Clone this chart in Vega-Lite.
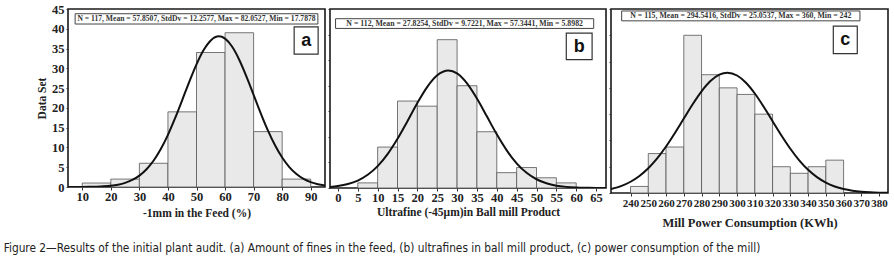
{
  "$schema": "https://vega.github.io/schema/vega-lite/v6.json",
  "background": "white",
  "padding": {"left": 3, "top": 2, "right": 2, "bottom": 5},
  "autosize": {"type": "pad"},
  "bounds": "flush",
  "spacing": 5,
  "config": {
    "view": {"stroke": "#1a1a1a", "strokeWidth": 1.6},
    "axis": {"grid": false, "domain": false, "labelFont": "Liberation Serif", "labelFontWeight": "bold", "labelFontSize": 12.5, "labelColor": "#222", "titleFont": "Liberation Serif", "titleFontWeight": "bold", "titleFontSize": 11.5, "titleColor": "#222", "tickColor": "#333", "tickSize": 3, "labelPadding": 2},
    "axisX": {"labelPadding": 0}
  },
  "title": {"text": "Figure 2\u2014Results of the initial plant audit. (a) Amount of fines in the feed, (b) ultrafines in ball mill product, (c) power consumption of the mill)", "orient": "bottom", "anchor": "start", "frame": "bounds", "font": "'Liberation Sans Narrow', 'DejaVu Sans Condensed', 'Liberation Sans', sans-serif", "fontSize": 11.8, "fontWeight": "normal", "color": "#222", "offset": 14, "dx": -32},
  "datasets": {
    "barsA": [
      {"lo": 10, "hi": 20, "count": 1}, {"lo": 20, "hi": 30, "count": 2}, {"lo": 30, "hi": 40, "count": 6},
      {"lo": 40, "hi": 50, "count": 19}, {"lo": 50, "hi": 60, "count": 34}, {"lo": 60, "hi": 70, "count": 39},
      {"lo": 70, "hi": 80, "count": 14}, {"lo": 80, "hi": 90, "count": 2}
    ],
    "curveA": [
      {"x": 5, "y": 0.004}, {"x": 7.5, "y": 0.008}, {"x": 10, "y": 0.019}, {"x": 12.5, "y": 0.041}, {"x": 15, "y": 0.084},
      {"x": 17.5, "y": 0.169}, {"x": 20, "y": 0.324}, {"x": 22.5, "y": 0.595}, {"x": 25, "y": 1.05}, {"x": 27.5, "y": 1.78},
      {"x": 30, "y": 2.88}, {"x": 32.5, "y": 4.49}, {"x": 35, "y": 6.70}, {"x": 37.5, "y": 9.60}, {"x": 40, "y": 13.19},
      {"x": 42.5, "y": 17.39}, {"x": 45, "y": 21.98}, {"x": 47.5, "y": 26.66}, {"x": 50, "y": 31.02}, {"x": 52.5, "y": 34.62},
      {"x": 55, "y": 37.06}, {"x": 57.85, "y": 38.08}, {"x": 60, "y": 37.50}, {"x": 62.5, "y": 35.44}, {"x": 65, "y": 32.12},
      {"x": 67.5, "y": 27.93}, {"x": 70, "y": 23.30}, {"x": 72.5, "y": 18.64}, {"x": 75, "y": 14.31}, {"x": 77.5, "y": 10.54},
      {"x": 80, "y": 7.44}, {"x": 82.5, "y": 5.04}, {"x": 85, "y": 3.28}, {"x": 87.5, "y": 2.04}, {"x": 90, "y": 1.22},
      {"x": 92.5, "y": 0.70}, {"x": 95, "y": 0.385}
    ],
    "barsB": [
      {"lo": 5, "hi": 10, "count": 1}, {"lo": 10, "hi": 15, "count": 8}, {"lo": 15, "hi": 20, "count": 17},
      {"lo": 20, "hi": 25, "count": 16}, {"lo": 25, "hi": 30, "count": 29}, {"lo": 30, "hi": 35, "count": 20},
      {"lo": 35, "hi": 40, "count": 11}, {"lo": 40, "hi": 45, "count": 3}, {"lo": 45, "hi": 50, "count": 4},
      {"lo": 50, "hi": 55, "count": 2}, {"lo": 55, "hi": 60, "count": 1}
    ],
    "curveB": [
      {"x": -2, "y": 0.208}, {"x": 0, "y": 0.383}, {"x": 2.5, "y": 0.773}, {"x": 5, "y": 1.46}, {"x": 7.5, "y": 2.58},
      {"x": 10, "y": 4.28}, {"x": 12.5, "y": 6.63}, {"x": 15, "y": 9.63}, {"x": 17.5, "y": 13.07}, {"x": 20, "y": 16.62},
      {"x": 22.5, "y": 19.78}, {"x": 25, "y": 22.03}, {"x": 27.83, "y": 22.98}, {"x": 30, "y": 22.41}, {"x": 32.5, "y": 20.47},
      {"x": 35, "y": 17.50}, {"x": 37.5, "y": 14.01}, {"x": 40, "y": 10.49}, {"x": 42.5, "y": 7.36}, {"x": 45, "y": 4.83},
      {"x": 47.5, "y": 2.97}, {"x": 50, "y": 1.71}, {"x": 52.5, "y": 0.92}, {"x": 55, "y": 0.46}, {"x": 57.5, "y": 0.22},
      {"x": 60, "y": 0.096}, {"x": 62.5, "y": 0.04}, {"x": 65, "y": 0.015}, {"x": 67.5, "y": 0.005}
    ],
    "barsC": [
      {"lo": 240, "hi": 250, "count": 1}, {"lo": 250, "hi": 260, "count": 6}, {"lo": 260, "hi": 270, "count": 7},
      {"lo": 270, "hi": 280, "count": 24}, {"lo": 280, "hi": 290, "count": 18}, {"lo": 290, "hi": 300, "count": 16},
      {"lo": 300, "hi": 310, "count": 15}, {"lo": 310, "hi": 320, "count": 12}, {"lo": 320, "hi": 330, "count": 4},
      {"lo": 330, "hi": 340, "count": 3}, {"lo": 340, "hi": 350, "count": 4}, {"lo": 350, "hi": 360, "count": 5}
    ],
    "curveC": [
      {"x": 229, "y": 0.598}, {"x": 235, "y": 1.088}, {"x": 240, "y": 1.712}, {"x": 245, "y": 2.593}, {"x": 250, "y": 3.77},
      {"x": 255, "y": 5.27}, {"x": 260, "y": 7.08}, {"x": 265, "y": 9.14}, {"x": 270, "y": 11.33}, {"x": 275, "y": 13.51},
      {"x": 280, "y": 15.47}, {"x": 285, "y": 17.03}, {"x": 290, "y": 18.01}, {"x": 294.54, "y": 18.31}, {"x": 300, "y": 17.88},
      {"x": 305, "y": 16.78}, {"x": 310, "y": 15.14}, {"x": 315, "y": 13.12}, {"x": 320, "y": 10.93}, {"x": 325, "y": 8.75},
      {"x": 330, "y": 6.73}, {"x": 335, "y": 4.97}, {"x": 340, "y": 3.53}, {"x": 345, "y": 2.41}, {"x": 350, "y": 1.58},
      {"x": 355, "y": 0.996}, {"x": 360, "y": 0.603}, {"x": 365, "y": 0.351}, {"x": 370, "y": 0.196}, {"x": 375, "y": 0.105},
      {"x": 380, "y": 0.055}, {"x": 385, "y": 0.027}
    ]
  },
  "hconcat": [
    {
      "width": 257, "height": 178,
      "layer": [
        {
          "data": {"name": "barsA"},
          "mark": {"type": "bar", "fill": "#e9e9e9", "stroke": "#555", "strokeWidth": 0.8},
          "encoding": {
            "x": {"field": "lo", "type": "quantitative", "scale": {"domain": [5, 95], "nice": false, "zero": false}, "axis": {"values": [10, 20, 30, 40, 50, 60, 70, 80, 90], "tickCount": 50, "labelOverlap": false, "title": "-1mm in the Feed (%)", "titlePadding": 5}},
            "x2": {"field": "hi"},
            "y": {"field": "count", "type": "quantitative", "scale": {"domain": [0, 45], "nice": false}, "axis": {"values": [0, 5, 10, 15, 20, 25, 30, 35, 40, 45], "tickCount": 50, "labelOverlap": false, "title": "Data Set", "titlePadding": 4, "tickSize": 2}},
            "y2": {"datum": 0}
          }
        },
        {
          "data": {"name": "curveA"},
          "mark": {"type": "line", "color": "#111", "strokeWidth": 2, "interpolate": "monotone", "clip": true},
          "encoding": {"x": {"field": "x", "type": "quantitative"}, "y": {"field": "y", "type": "quantitative"}}
        },
        {
          "data": {"values": [{}]},
          "mark": {"type": "rect", "fill": "white", "stroke": "#444", "strokeWidth": 1},
          "encoding": {"x": {"datum": 7.5}, "x2": {"datum": 92.5}, "y": {"datum": 41.2}, "y2": {"datum": 43.8}}
        },
        {
          "data": {"values": [{}]},
          "mark": {"type": "text", "text": "N = 117, Mean = 57.8507, StdDv = 12.2577, Max = 82.0527, Min = 17.7878", "font": "Liberation Serif", "fontSize": 7.6, "fontWeight": "bold", "color": "#333", "align": "center", "baseline": "middle"},
          "encoding": {"x": {"datum": 50}, "y": {"datum": 42.5}}
        },
        {
          "data": {"values": [{}]},
          "mark": {"type": "rect", "fill": "white", "stroke": "#333", "strokeWidth": 1.2},
          "encoding": {"x": {"datum": 84.2}, "x2": {"datum": 92.6}, "y": {"datum": 33.6}, "y2": {"datum": 40.5}}
        },
        {
          "data": {"values": [{}]},
          "mark": {"type": "text", "text": "a", "font": "Liberation Sans", "fontSize": 18, "fontWeight": "bold", "color": "#111", "align": "center", "baseline": "middle"},
          "encoding": {"x": {"datum": 88.4}, "y": {"datum": 37.0}}
        }
      ]
    },
    {
      "width": 276, "height": 179,
      "layer": [
        {
          "data": {"name": "barsB"},
          "mark": {"type": "bar", "fill": "#e9e9e9", "stroke": "#555", "strokeWidth": 0.8},
          "encoding": {
            "x": {"field": "lo", "type": "quantitative", "scale": {"domain": [-2, 67.5], "nice": false, "zero": false}, "axis": {"values": [0, 5, 10, 15, 20, 25, 30, 35, 40, 45, 50, 55, 60, 65], "tickCount": 50, "labelOverlap": false, "title": "Ultrafine (-45\u03bcm)in Ball mill Product", "titlePadding": 3}},
            "x2": {"field": "hi"},
            "y": {"field": "count", "type": "quantitative", "scale": {"domain": [0, 35], "nice": false}, "axis": {"values": [0, 5, 10, 15, 20, 25, 30, 35], "tickCount": 50, "labels": false, "title": null, "tickSize": 2}},
            "y2": {"datum": 0}
          }
        },
        {
          "data": {"name": "curveB"},
          "mark": {"type": "line", "color": "#111", "strokeWidth": 2, "interpolate": "monotone", "clip": true},
          "encoding": {"x": {"field": "x", "type": "quantitative"}, "y": {"field": "y", "type": "quantitative"}}
        },
        {
          "data": {"values": [{}]},
          "mark": {"type": "rect", "fill": "white", "stroke": "#444", "strokeWidth": 1},
          "encoding": {"x": {"datum": -0.6}, "x2": {"datum": 64.4}, "y": {"datum": 31.2}, "y2": {"datum": 33.1}}
        },
        {
          "data": {"values": [{}]},
          "mark": {"type": "text", "text": "N = 112, Mean = 27.8254, StdDv = 9.7221, Max = 57.3441, Min = 5.8982", "font": "Liberation Serif", "fontSize": 7.8, "fontWeight": "bold", "color": "#333", "align": "center", "baseline": "middle"},
          "encoding": {"x": {"datum": 31.9}, "y": {"datum": 32.15}}
        },
        {
          "data": {"values": [{}]},
          "mark": {"type": "rect", "fill": "white", "stroke": "#333", "strokeWidth": 1.2},
          "encoding": {"x": {"datum": 57.5}, "x2": {"datum": 64}, "y": {"datum": 25.1}, "y2": {"datum": 30.3}}
        },
        {
          "data": {"values": [{}]},
          "mark": {"type": "text", "text": "b", "font": "Liberation Sans", "fontSize": 18, "fontWeight": "bold", "color": "#111", "align": "center", "baseline": "middle"},
          "encoding": {"x": {"datum": 60.75}, "y": {"datum": 27.6}}
        }
      ]
    },
    {
      "width": 277, "height": 184,
      "layer": [
        {
          "data": {"name": "barsC"},
          "mark": {"type": "bar", "fill": "#e9e9e9", "stroke": "#555", "strokeWidth": 0.8},
          "encoding": {
            "x": {"field": "lo", "type": "quantitative", "scale": {"domain": [229, 385], "nice": false, "zero": false}, "axis": {"values": [240, 250, 260, 270, 280, 290, 300, 310, 320, 330, 340, 350, 360, 370, 380], "tickCount": 50, "labelOverlap": false, "title": "Mill Power Consumption (KWh)", "titlePadding": 8, "titleFontSize": 12.5, "labelFontSize": 11, "labelPadding": 1}},
            "x2": {"field": "hi"},
            "y": {"field": "count", "type": "quantitative", "scale": {"domain": [0, 28], "nice": false}, "axis": {"values": [0, 4, 8, 12, 16, 20, 24, 28], "tickCount": 50, "labels": false, "title": null, "tickSize": 2}},
            "y2": {"datum": 0}
          }
        },
        {
          "data": {"name": "curveC"},
          "mark": {"type": "line", "color": "#111", "strokeWidth": 2, "interpolate": "monotone", "clip": true},
          "encoding": {"x": {"field": "x", "type": "quantitative"}, "y": {"field": "y", "type": "quantitative"}}
        },
        {
          "data": {"values": [{}]},
          "mark": {"type": "rect", "fill": "white", "stroke": "#444", "strokeWidth": 1},
          "encoding": {"x": {"datum": 235}, "x2": {"datum": 369.2}, "y": {"datum": 26.2}, "y2": {"datum": 27.7}}
        },
        {
          "data": {"values": [{}]},
          "mark": {"type": "text", "text": "N = 115, Mean = 294.5416, StdDv = 25.0537, Max = 360, Min = 242", "font": "Liberation Serif", "fontSize": 7.8, "fontWeight": "bold", "color": "#333", "align": "center", "baseline": "middle"},
          "encoding": {"x": {"datum": 302.1}, "y": {"datum": 26.95}}
        },
        {
          "data": {"values": [{}]},
          "mark": {"type": "rect", "fill": "white", "stroke": "#333", "strokeWidth": 1.2},
          "encoding": {"x": {"datum": 354.2}, "x2": {"datum": 367.7}, "y": {"datum": 21.2}, "y2": {"datum": 25.4}}
        },
        {
          "data": {"values": [{}]},
          "mark": {"type": "text", "text": "c", "font": "Liberation Sans", "fontSize": 18, "fontWeight": "bold", "color": "#111", "align": "center", "baseline": "middle"},
          "encoding": {"x": {"datum": 360.95}, "y": {"datum": 23.3}}
        }
      ]
    }
  ]
}
